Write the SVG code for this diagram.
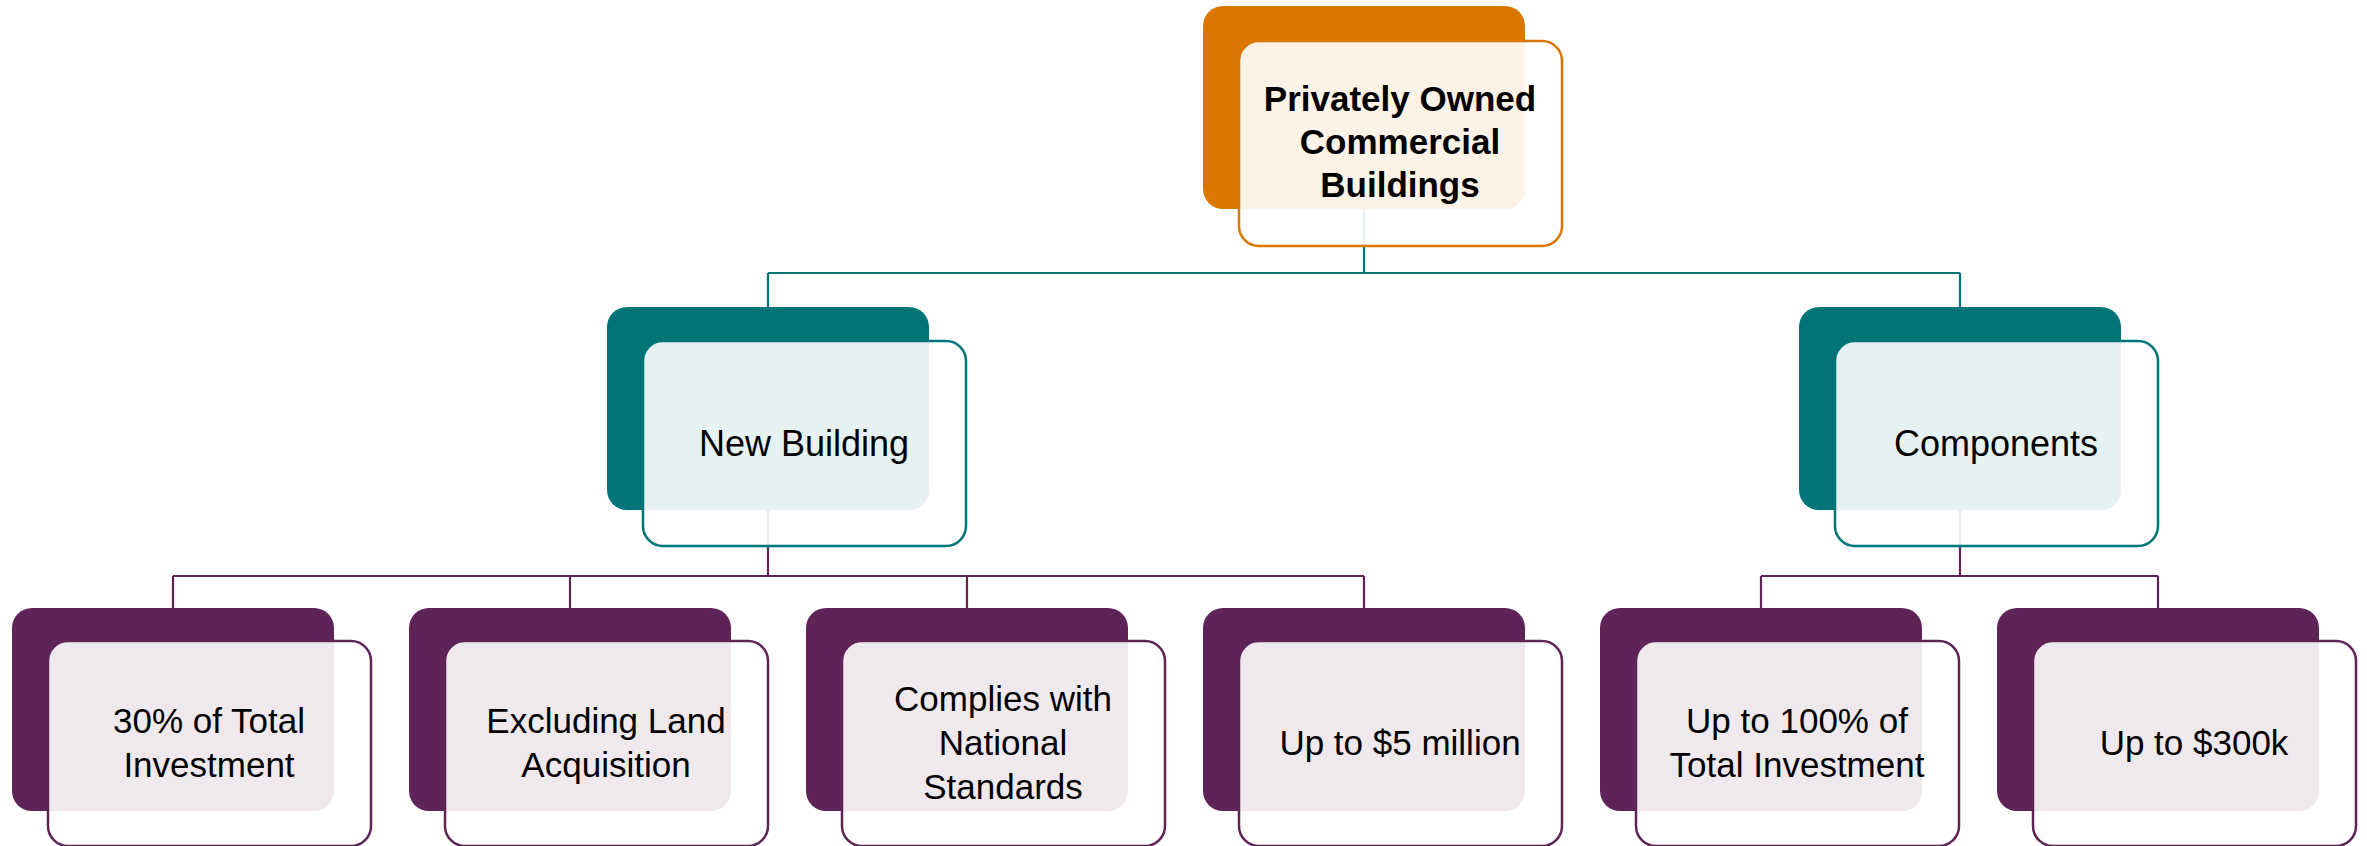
<svg xmlns="http://www.w3.org/2000/svg" width="2367" height="846" viewBox="0 0 2367 846">
<style>
.bg{fill:#ffffff}
.back{stroke:none}
.front{fill:#ffffff;fill-opacity:0.9;stroke-width:2.5}
.o .back{fill:#D97700}.o .front{stroke:#D97700}
.t .back{fill:#007476}.t .front{stroke:#007476}
.p .back{fill:#5E2457}.p .front{stroke:#5E2457}
.lbl{font-family:"Liberation Sans",Arial,sans-serif;font-size:35px;fill:#000;text-anchor:middle}
.l2{font-size:36px}
.hd{font-weight:bold;font-size:35px}
.ct{fill:none;stroke-width:2.2}
.ct.tl{stroke:#007476}.ct.pl{stroke:#5E2457}
</style>
<rect class="bg" x="0" y="0" width="2367" height="846"/>
<g id="connectors">
<path class="ct tl" d="M1364,209 V273 M768,273 H1960 M768,273 V307 M1960,273 V307"/>
<path class="ct pl" d="M768,510 V576 M173,576 H1364 M173,576 V608 M570,576 V608 M967,576 V608 M1364,576 V608"/>
<path class="ct pl" d="M1960,509 V576 M1761,576 H2158 M1761,576 V608 M2158,576 V608"/>
</g>
<g id="n-root" class="o">
<rect class="back" x="1203" y="6" width="322" height="203" rx="20"/>
<rect class="front" x="1239" y="41" width="323" height="205" rx="20"/>
<text class="lbl hd" x="1400" y="111">Privately Owned</text>
<text class="lbl hd" x="1400" y="154">Commercial</text>
<text class="lbl hd" x="1400" y="197">Buildings</text>
</g>
<g id="n-new" class="t">
<rect class="back" x="607" y="307" width="322" height="203" rx="20"/>
<rect class="front" x="643" y="341" width="323" height="205" rx="20"/>
<text class="lbl l2" x="804" y="456">New Building</text>
</g>
<g id="n-comp" class="t">
<rect class="back" x="1799" y="307" width="322" height="203" rx="20"/>
<rect class="front" x="1835" y="341" width="323" height="205" rx="20"/>
<text class="lbl l2" x="1996" y="456">Components</text>
</g>
<g id="n-30" class="p">
<rect class="back" x="12" y="608" width="322" height="203" rx="20"/>
<rect class="front" x="48" y="641" width="323" height="205" rx="20"/>
<text class="lbl" x="209" y="733">30% of Total</text>
<text class="lbl" x="209" y="777">Investment</text>
</g>
<g id="n-land" class="p">
<rect class="back" x="409" y="608" width="322" height="203" rx="20"/>
<rect class="front" x="445" y="641" width="323" height="205" rx="20"/>
<text class="lbl" x="606" y="733">Excluding Land</text>
<text class="lbl" x="606" y="777">Acquisition</text>
</g>
<g id="n-std" class="p">
<rect class="back" x="806" y="608" width="322" height="203" rx="20"/>
<rect class="front" x="842" y="641" width="323" height="205" rx="20"/>
<text class="lbl" x="1003" y="711">Complies with</text>
<text class="lbl" x="1003" y="755">National</text>
<text class="lbl" x="1003" y="799">Standards</text>
</g>
<g id="n-5m" class="p">
<rect class="back" x="1203" y="608" width="322" height="203" rx="20"/>
<rect class="front" x="1239" y="641" width="323" height="205" rx="20"/>
<text class="lbl" x="1400" y="755">Up to $5 million</text>
</g>
<g id="n-100" class="p">
<rect class="back" x="1600" y="608" width="322" height="203" rx="20"/>
<rect class="front" x="1636" y="641" width="323" height="205" rx="20"/>
<text class="lbl" x="1797" y="733">Up to 100% of</text>
<text class="lbl" x="1797" y="777">Total Investment</text>
</g>
<g id="n-300" class="p">
<rect class="back" x="1997" y="608" width="322" height="203" rx="20"/>
<rect class="front" x="2033" y="641" width="323" height="205" rx="20"/>
<text class="lbl" x="2194" y="755">Up to $300k</text>
</g>
</svg>
